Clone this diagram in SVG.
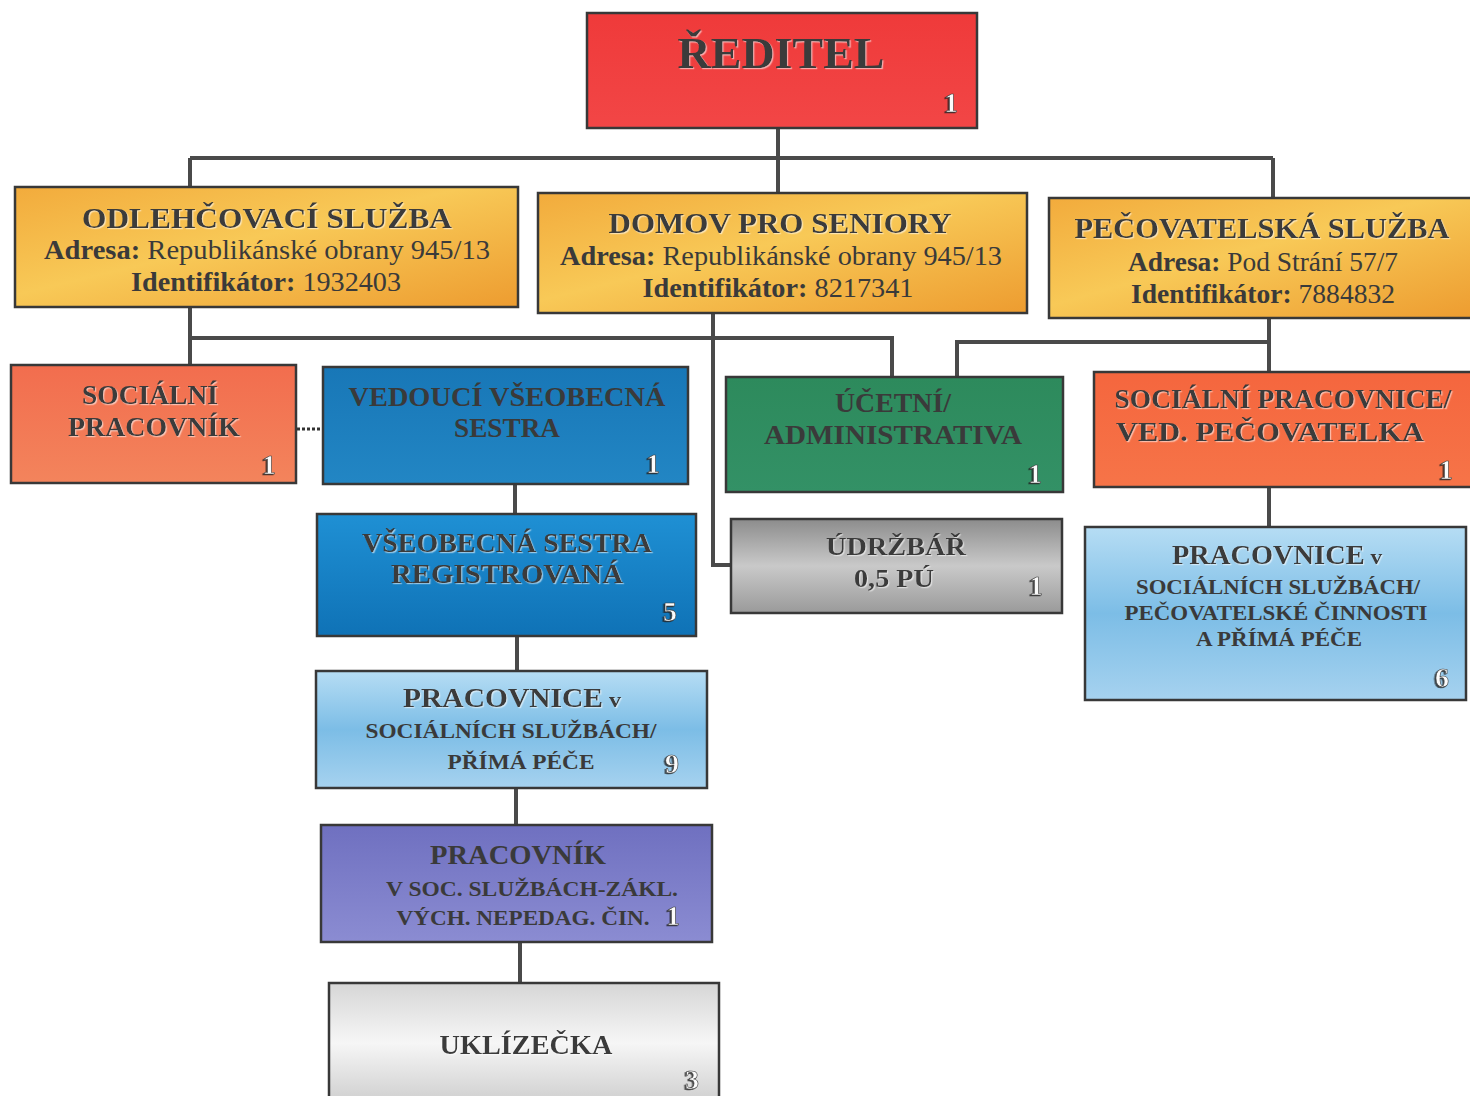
<svg xmlns="http://www.w3.org/2000/svg" width="1470" height="1096" viewBox="0 0 1470 1096">
<defs>
<style>
.box{stroke:#383838;stroke-width:2.5}
.t{font-family:"Liberation Serif","Times New Roman",serif;font-weight:bold;text-anchor:middle;fill:#3a3a3a}
.r{font-weight:normal}
.n{font-family:"Liberation Serif","Times New Roman",serif;font-weight:bold;font-size:28px;fill:#fbfbfb;stroke:#3a3a3a;stroke-width:0.6;text-anchor:middle;filter:url(#nsh)}
.c{fill:none;stroke:#4a4a4a;stroke-width:4}
</style>
<filter id="emb" x="-5%" y="-20%" width="110%" height="140%"><feDropShadow dx="1.2" dy="1.2" stdDeviation="0.4" flood-color="#ffffff" flood-opacity="0.55"/></filter>
<filter id="nsh" x="-50%" y="-30%" width="200%" height="160%"><feDropShadow dx="-1.5" dy="1" stdDeviation="0.3" flood-color="#222222" flood-opacity="0.8"/></filter>
<linearGradient id="gRed" x1="0" y1="0" x2="0" y2="1"><stop offset="0" stop-color="#ef3a3a"/><stop offset="1" stop-color="#f24646"/></linearGradient>
<linearGradient id="gGold" x1="0" y1="0" x2="1" y2="1"><stop offset="0" stop-color="#f2ab3c"/><stop offset="0.45" stop-color="#f8c957"/><stop offset="1" stop-color="#ed9c30"/></linearGradient>
<linearGradient id="gOr" x1="0" y1="0" x2="0" y2="1"><stop offset="0" stop-color="#f26d4e"/><stop offset="1" stop-color="#f3845c"/></linearGradient>
<linearGradient id="gOr2" x1="0" y1="0" x2="0" y2="1"><stop offset="0" stop-color="#f5663e"/><stop offset="1" stop-color="#f67448"/></linearGradient>
<linearGradient id="gBlue1" x1="0" y1="0" x2="0" y2="1"><stop offset="0" stop-color="#1877b7"/><stop offset="1" stop-color="#2286c4"/></linearGradient>
<linearGradient id="gBlue2" x1="0" y1="0" x2="0" y2="1"><stop offset="0" stop-color="#1f90d4"/><stop offset="1" stop-color="#0f72b6"/></linearGradient>
<linearGradient id="gGreen" x1="0" y1="0" x2="0" y2="1"><stop offset="0" stop-color="#2d8a5c"/><stop offset="1" stop-color="#339166"/></linearGradient>
<linearGradient id="gLight" x1="0" y1="0" x2="0" y2="1"><stop offset="0" stop-color="#b6ddf4"/><stop offset="0.5" stop-color="#7cbde6"/><stop offset="1" stop-color="#a6d2ef"/></linearGradient>
<linearGradient id="gGray" x1="0" y1="0" x2="0" y2="1"><stop offset="0" stop-color="#8c8c8c"/><stop offset="0.5" stop-color="#c9c9c9"/><stop offset="1" stop-color="#9a9a9a"/></linearGradient>
<linearGradient id="gPurp" x1="0" y1="0" x2="0" y2="1"><stop offset="0" stop-color="#6f70c0"/><stop offset="1" stop-color="#8b8cd2"/></linearGradient>
<linearGradient id="gWhite" x1="0" y1="0" x2="0" y2="1"><stop offset="0" stop-color="#d6d6d6"/><stop offset="0.5" stop-color="#f6f6f6"/><stop offset="1" stop-color="#cfcfcf"/></linearGradient>
</defs>
<rect width="1470" height="1096" fill="#ffffff"/>

<g id="connectors">
<path class="c" d="M778,128 V158 M190,158 H1273 M190,158 V187 M778,158 V193 M1273,158 V198"/>
<path class="c" d="M190,307 V365 M190,338 H892 V377"/>
<path class="c" d="M713,313 V565 H731"/>
<path class="c" d="M957,377 V342 H1269 M1269,318 V372"/>
<path class="c" d="M1269,487 V527"/>
<path class="c" d="M515,484 V514 M517,636 V671 M516,788 V825 M520,942 V983"/>
<path d="M297,429 H323" fill="none" stroke="#333" stroke-width="3" stroke-dasharray="3,2"/>
</g>

<g id="reditel">
<rect class="box" x="587" y="13" width="390" height="115" fill="url(#gRed)"/>
<text class="t" x="781" y="68" font-size="45" textLength="207" lengthAdjust="spacingAndGlyphs" filter="url(#emb)">ŘEDITEL</text>
<text class="n" x="951" y="112">1</text>
</g>

<g id="odlehcovaci">
<rect class="box" x="15" y="187" width="503" height="120" fill="url(#gGold)"/>
<text class="t" x="267" y="228" font-size="30" textLength="370" lengthAdjust="spacingAndGlyphs" filter="url(#emb)">ODLEHČOVACÍ SLUŽBA</text>
<text class="t" x="267" y="259" font-size="27" textLength="446" lengthAdjust="spacingAndGlyphs">Adresa:<tspan class="r"> Republikánské obrany 945/13</tspan></text>
<text class="t" x="266" y="291" font-size="27" textLength="270" lengthAdjust="spacingAndGlyphs">Identifikátor:<tspan class="r"> 1932403</tspan></text>
</g>

<g id="domov">
<rect class="box" x="538" y="193" width="489" height="120" fill="url(#gGold)"/>
<text class="t" x="780" y="233" font-size="30" textLength="343" lengthAdjust="spacingAndGlyphs" filter="url(#emb)">DOMOV PRO SENIORY</text>
<text class="t" x="781" y="265" font-size="27" textLength="442" lengthAdjust="spacingAndGlyphs">Adresa:<tspan class="r"> Republikánské obrany 945/13</tspan></text>
<text class="t" x="778" y="297" font-size="27" textLength="271" lengthAdjust="spacingAndGlyphs">Identifikátor:<tspan class="r"> 8217341</tspan></text>
</g>

<g id="pecovatelska">
<rect class="box" x="1049" y="198" width="425" height="120" fill="url(#gGold)"/>
<text class="t" x="1262" y="238" font-size="30" textLength="375" lengthAdjust="spacingAndGlyphs" filter="url(#emb)">PEČOVATELSKÁ SLUŽBA</text>
<text class="t" x="1263" y="271" font-size="27" textLength="270" lengthAdjust="spacingAndGlyphs">Adresa:<tspan class="r"> Pod Strání 57/7</tspan></text>
<text class="t" x="1263" y="303" font-size="27" textLength="264" lengthAdjust="spacingAndGlyphs">Identifikátor:<tspan class="r"> 7884832</tspan></text>
</g>

<g id="socialni-pracovnik">
<rect class="box" x="11" y="365" width="285" height="118" fill="url(#gOr)"/>
<text class="t" x="150" y="404" font-size="27" textLength="136" lengthAdjust="spacingAndGlyphs" filter="url(#emb)" fill="#4a4a4a">SOCIÁLNÍ</text>
<text class="t" x="154" y="436" font-size="27" textLength="172" lengthAdjust="spacingAndGlyphs" filter="url(#emb)" fill="#4a4a4a">PRACOVNÍK</text>
<text class="n" x="269" y="474">1</text>
</g>

<g id="vedouci-sestra">
<rect class="box" x="323" y="367" width="365" height="117" fill="url(#gBlue1)"/>
<text class="t" x="507" y="406" font-size="27" textLength="317" lengthAdjust="spacingAndGlyphs" fill="#4b5a6e">VEDOUCÍ VŠEOBECNÁ</text>
<text class="t" x="507" y="437" font-size="27" textLength="106" lengthAdjust="spacingAndGlyphs" fill="#4b5a6e">SESTRA</text>
<text class="n" x="653" y="473">1</text>
</g>

<g id="ucetni">
<rect class="box" x="726" y="377" width="337" height="115" fill="url(#gGreen)"/>
<text class="t" x="893" y="412" font-size="27" textLength="116" lengthAdjust="spacingAndGlyphs" fill="#3f5a48">ÚČETNÍ/</text>
<text class="t" x="893" y="444" font-size="27" textLength="258" lengthAdjust="spacingAndGlyphs" fill="#3f5a48">ADMINISTRATIVA</text>
<text class="n" x="1035" y="483">1</text>
</g>

<g id="socialni-pracovnice">
<rect class="box" x="1094" y="372" width="380" height="115" fill="url(#gOr2)"/>
<text class="t" x="1283" y="408" font-size="27" textLength="337" lengthAdjust="spacingAndGlyphs" fill="#4a4a4a" filter="url(#emb)">SOCIÁLNÍ PRACOVNICE/</text>
<text class="t" x="1270" y="441" font-size="27" textLength="308" lengthAdjust="spacingAndGlyphs" fill="#3a3a3a" filter="url(#emb)">VED. PEČOVATELKA</text>
<text class="n" x="1446" y="479">1</text>
</g>

<g id="vseobecna-sestra">
<rect class="box" x="317" y="514" width="379" height="122" fill="url(#gBlue2)"/>
<text class="t" x="507" y="552" font-size="27" textLength="290" lengthAdjust="spacingAndGlyphs" fill="#505566" filter="url(#emb)">VŠEOBECNÁ SESTRA</text>
<text class="t" x="507" y="583" font-size="27" textLength="232" lengthAdjust="spacingAndGlyphs" fill="#4a4a50" filter="url(#emb)">REGISTROVANÁ</text>
<text class="n" x="670" y="621">5</text>
</g>

<g id="udrzbar">
<rect class="box" x="731" y="519" width="331" height="94" fill="url(#gGray)"/>
<text class="t" x="896" y="555" font-size="26" textLength="140" lengthAdjust="spacingAndGlyphs" fill="#444" filter="url(#emb)">ÚDRŽBÁŘ</text>
<text class="t" x="894" y="587" font-size="26" textLength="80" lengthAdjust="spacingAndGlyphs" fill="#444" filter="url(#emb)">0,5 PÚ</text>
<text class="n" x="1036" y="595">1</text>
</g>

<g id="pracovnice-prima-pece">
<rect class="box" x="316" y="671" width="391" height="117" fill="url(#gLight)"/>
<text class="t" x="512" y="707" font-size="27" textLength="218" lengthAdjust="spacingAndGlyphs" filter="url(#emb)">PRACOVNICE<tspan font-size="22"> v</tspan></text>
<text class="t" x="511" y="738" font-size="22" textLength="291" lengthAdjust="spacingAndGlyphs" fill="#2e2e2e">SOCIÁLNÍCH SLUŽBÁCH/</text>
<text class="t" x="521" y="769" font-size="22" textLength="147" lengthAdjust="spacingAndGlyphs" fill="#2e2e2e">PŘÍMÁ PÉČE</text>
<text class="n" x="672" y="773">9</text>
</g>

<g id="pracovnice-pecovatelske">
<rect class="box" x="1085" y="527" width="381" height="173" fill="url(#gLight)"/>
<text class="t" x="1277" y="564" font-size="27" textLength="210" lengthAdjust="spacingAndGlyphs" filter="url(#emb)">PRACOVNICE<tspan font-size="22"> v</tspan></text>
<text class="t" x="1278" y="594" font-size="22" textLength="284" lengthAdjust="spacingAndGlyphs" fill="#2e2e2e">SOCIÁLNÍCH SLUŽBÁCH/</text>
<text class="t" x="1276" y="620" font-size="22" textLength="303" lengthAdjust="spacingAndGlyphs" fill="#2e2e2e">PEČOVATELSKÉ ČINNOSTI</text>
<text class="t" x="1279" y="646" font-size="22" textLength="166" lengthAdjust="spacingAndGlyphs" fill="#2e2e2e">A PŘÍMÁ PÉČE</text>
<text class="n" x="1442" y="687">6</text>
</g>

<g id="pracovnik-zakl">
<rect class="box" x="321" y="825" width="391" height="117" fill="url(#gPurp)"/>
<text class="t" x="518" y="864" font-size="27" textLength="176" lengthAdjust="spacingAndGlyphs" fill="#566a5c">PRACOVNÍK</text>
<text class="t" x="532" y="896" font-size="22" textLength="292" lengthAdjust="spacingAndGlyphs" fill="#2a2a3a">V SOC. SLUŽBÁCH-ZÁKL.</text>
<text class="t" x="523" y="925" font-size="22" textLength="253" lengthAdjust="spacingAndGlyphs" fill="#626a80">VÝCH. NEPEDAG. ČIN.</text>
<text class="n" x="673" y="925" font-size="20">1</text>
</g>

<g id="uklizecka">
<rect class="box" x="329" y="983" width="390" height="120" fill="url(#gWhite)"/>
<text class="t" x="526" y="1054" font-size="27" textLength="173" lengthAdjust="spacingAndGlyphs" fill="#444" filter="url(#emb)">UKLÍZEČKA</text>
<text class="n" x="692" y="1089">3</text>
</g>
</svg>
